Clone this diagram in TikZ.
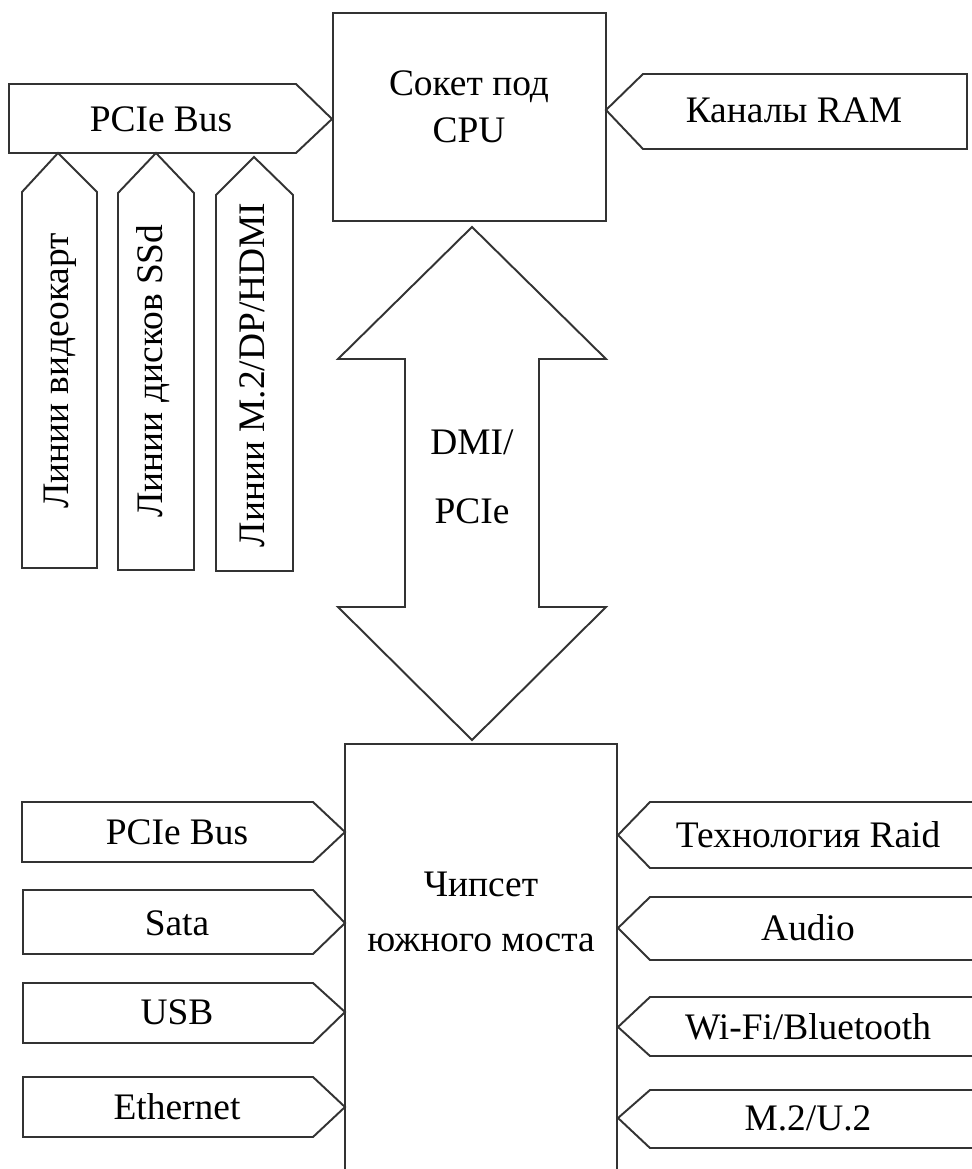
\documentclass[tikz,border=0pt]{standalone}
\usepackage{fontspec}
\setmainfont{Liberation Serif}
\begin{document}
\begin{tikzpicture}[x=0.02cm,y=-0.02cm,
  outline/.style={draw=black!80,line width=1.1pt,line join=miter,fill=white},
  lbl/.style={font=\fontsize{21.3}{25}\selectfont,inner sep=0pt,anchor=center},
  vlbl/.style={lbl,rotate=90}]
\useasboundingbox (0,0) rectangle (972,1169);
\clip (0,0) rectangle (972,1169);

% CPU socket
\draw[outline] (333,13) rectangle (606,221);
\node[lbl,align=center] (cpu) at (469,107) {Сокет под\\[2pt]CPU};

% PCIe bus towards the CPU
\draw[outline] (9,84) -- (296,84) -- (332,119) -- (296,153) -- (9,153) -- cycle;
\node[lbl] (pcie) at (161,119) {PCIe Bus};

% RAM channels
\draw[outline] (606,110) -- (643,74) -- (967,74) -- (967,149) -- (643,149) -- cycle;
\node[lbl] (ram) at (794,110) {Каналы RAM};

% Lanes feeding the PCIe bus
\draw[outline] (58,153) -- (97,192) -- (97,568) -- (22,568) -- (22,192) -- cycle;
\node[vlbl] (gpu) at (60,371) {Линии видеокарт};
\draw[outline] (156,153) -- (194,193) -- (194,570) -- (118,570) -- (118,193) -- cycle;
\node[vlbl] (ssd) at (153,371) {Линии дисков SSd};
\draw[outline] (254,157) -- (293,195) -- (293,571) -- (216,571) -- (216,195) -- cycle;
\node[vlbl] (m2) at (252,375) {Линии M.2/DP/HDMI};

% DMI / PCIe double arrow
\draw[outline] (472,227) -- (606,359) -- (539,359) -- (539,607) -- (606,607)
  -- (472,740) -- (338,607) -- (405,607) -- (405,359) -- (338,359) -- cycle;
\node[lbl,align=center] (dmi) at (472,477) {DMI/\\[14pt]PCIe};

% South bridge chipset
\draw[outline] (345,1200) -- (345,744) -- (617,744) -- (617,1200);
\node[lbl,align=center] (sb) at (481,912) {Чипсет\\[6pt]южного моста};

% Left inputs of the chipset
\draw[outline] (22,802) -- (313,802) -- (345,832) -- (313,862) -- (22,862) -- cycle;
\node[lbl] (pcie2) at (177,832) {PCIe Bus};
\draw[outline] (23,890) -- (313,890) -- (345,923) -- (313,954) -- (23,954) -- cycle;
\node[lbl] (sata) at (177,923) {Sata};
\draw[outline] (23,983) -- (313,983) -- (345,1012) -- (313,1043) -- (23,1043) -- cycle;
\node[lbl] (usb) at (177,1012) {USB};
\draw[outline] (23,1077) -- (313,1077) -- (345,1107) -- (313,1137) -- (23,1137) -- cycle;
\node[lbl] (eth) at (177,1107) {Ethernet};

% Right inputs of the chipset
\draw[outline] (1000,802) -- (650,802) -- (618,835) -- (650,868) -- (1000,868);
\node[lbl] (raid) at (808,835) {Технология Raid};
\draw[outline] (1000,897) -- (650,897) -- (618,928) -- (650,960) -- (1000,960);
\node[lbl] (audio) at (808,928) {Audio};
\draw[outline] (1000,997) -- (650,997) -- (618,1027) -- (650,1056) -- (1000,1056);
\node[lbl] (wifi) at (808,1027) {Wi-Fi/Bluetooth};
\draw[outline] (1000,1090) -- (650,1090) -- (618,1118) -- (650,1148) -- (1000,1148);
\node[lbl] (mu2) at (808,1118) {M.2/U.2};
\end{tikzpicture}
\end{document}
